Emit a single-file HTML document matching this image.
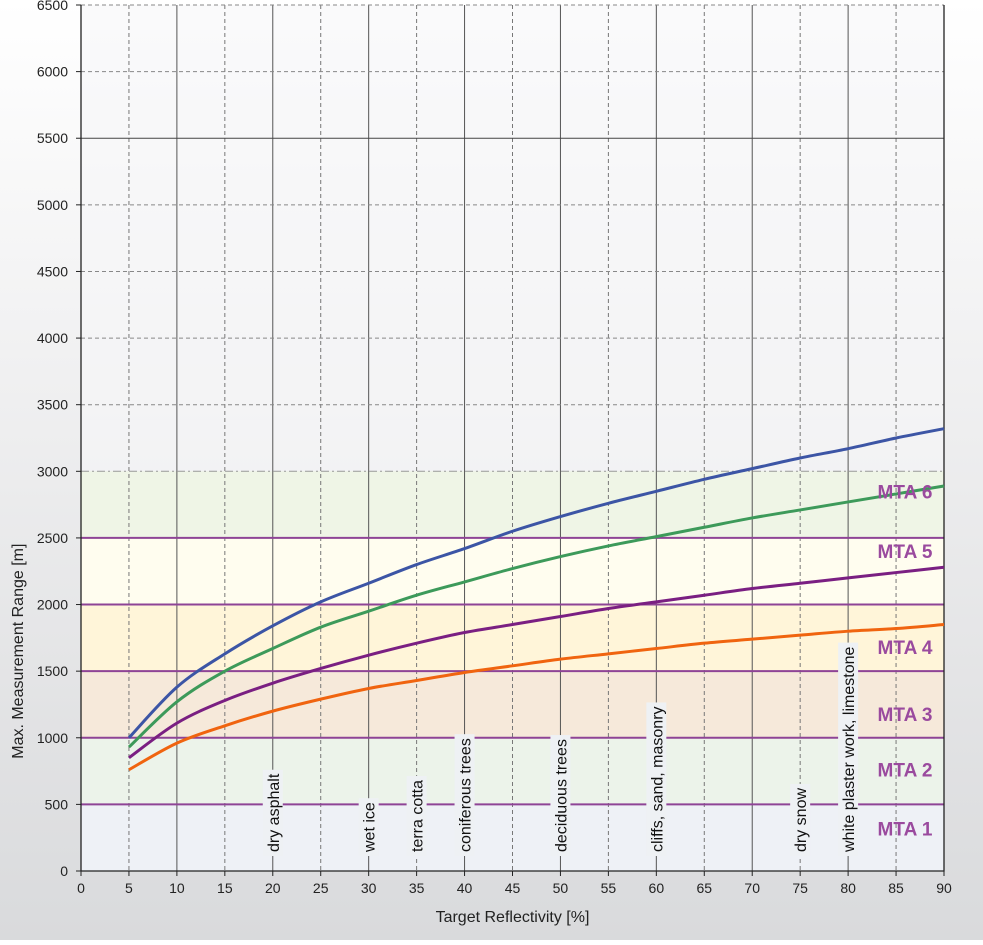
<!DOCTYPE html>
<html><head><meta charset="utf-8">
<style>
html,body{margin:0;padding:0;}
body{width:983px;height:940px;overflow:hidden;background:linear-gradient(#ffffff,#f0f0f1 40%,#d9dadc);font-family:"Liberation Sans",sans-serif;}
</style></head>
<body>
<svg id="chart" width="983" height="940" xmlns="http://www.w3.org/2000/svg" font-family="Liberation Sans, sans-serif"></svg>
<script>
const xTicks=[0,5,10,15,20,25,30,35,40,45,50,55,60,65,70,75,80,85,90];
const yTicks=[0,500,1000,1500,2000,2500,3000,3500,4000,4500,5000,5500,6000,6500];
const seriesX=[5,10,15,20,25,30,35,40,45,50,55,60,65,70,75,80,85,90];
const blueY=[1000,1380,1630,1840,2020,2160,2300,2420,2550,2660,2760,2850,2940,3020,3100,3170,3250,3320];
const greenY=[930,1270,1500,1670,1830,1950,2070,2170,2270,2360,2440,2510,2580,2650,2710,2770,2830,2890];
const purpleY=[850,1110,1280,1410,1520,1620,1710,1790,1850,1910,1970,2020,2070,2120,2160,2200,2240,2280];
const orangeY=[760,960,1090,1200,1290,1370,1430,1490,1540,1590,1630,1670,1710,1740,1770,1800,1820,1850];
const bandLo=[0,500,1000,1500,2000,2500];
const bandColors=["#eef1f6","#ecf3ea","#f6e9da","#fff5d9","#fffdef","#eff5e6"];
const mtaLabels=["MTA 1","MTA 2","MTA 3","MTA 4","MTA 5","MTA 6"];
const mtaLabelY=[320,760,1180,1680,2400,2850];
const materials=["dry asphalt","wet ice","terra cotta","coniferous trees","deciduous trees","cliffs, sand, masonry","dry snow","white plaster work, limestone"];
const materialX=[20,30,35,40,50,60,75,80];

const X0=81,X1=944,Y0=871,Y1=5;
const sx=v=>X0+(X1-X0)*v/90;
const sy=v=>Y0-(Y0-Y1)*v/6500;
const svg=document.getElementById('chart');
const NS="http://www.w3.org/2000/svg";
function mk(tag,attrs,parent){const e=document.createElementNS(NS,tag);for(const k in attrs)e.setAttribute(k,attrs[k]);(parent||svg).appendChild(e);return e;}

const upperBg=mk('rect',{x:X0,y:Y1,width:X1-X0,height:sy(3000)-Y1,fill:'#f7f7f8',opacity:0.6});


bandLo.forEach((lo,i)=>{
  const r=mk('rect',{x:X0,y:sy(lo+500),width:X1-X0,height:sy(lo)-sy(lo+500),fill:bandColors[i]});
  
  
});
xTicks.forEach(t=>{
  if(t===0)return;
  const l=mk('line',{x1:sx(t),x2:sx(t),y1:Y1,y2:Y0,stroke:t%10===0?'#555':'#777','stroke-width':1,'stroke-dasharray':t%10===0?'':'4,3'});
  
  
});
yTicks.forEach(t=>{
  if(t<3000)return;
  let dash='4,3',col='#888';
  if(t===5500){dash='';col='#444';}
  if(t===3000){dash='8,3,2,3';col='#999';}
  const l=mk('line',{x1:X0,x2:X1,y1:sy(t),y2:sy(t),stroke:col,'stroke-width':1,'stroke-dasharray':dash});
  
  
});
bandLo.forEach(lo=>{
  if(lo===0)return;
  const l=mk('line',{x1:X0,x2:X1,y1:sy(lo),y2:sy(lo),stroke:'#8e4496','stroke-width':2});
  
  
});
materials.forEach((m,i)=>{
  const x=sx(materialX[i]);
  const g=mk('g',{transform:`translate(${x+6},852) rotate(-90)`});
  
  
  const t=mk('text',{x:0,y:0,'font-size':16,fill:'#111'},g);
  t.textContent=m;
  const w=t.getComputedTextLength();
  const bg=mk('rect',{x:-4,y:-16,width:w+8,height:20,fill:'#eef1f4'},g);
  g.insertBefore(bg,t);
});
const ax=mk('path',{d:`M${X0},${Y1}V${Y0}H${X1}V${Y1}`,fill:'none',stroke:'#222','stroke-width':1.3});


xTicks.forEach(t=>{
  mk('line',{x1:sx(t),x2:sx(t),y1:Y0,y2:Y0+5,stroke:'#222'});
  const tx=mk('text',{x:sx(t),y:Y0+22,'font-size':14,'text-anchor':'middle',fill:'#222'});
  tx.textContent=t;
  
  
});
yTicks.forEach(t=>{
  mk('line',{x1:X0-5,x2:X0,y1:sy(t),y2:sy(t),stroke:'#222'});
  const tx=mk('text',{x:X0-13,y:sy(t)+5,'font-size':14,'text-anchor':'end',fill:'#222'});
  tx.textContent=t;
  
  
});
function smooth(ys){
  const p=seriesX.map((x,i)=>[sx(x),sy(ys[i])]);
  let d=`M${p[0][0]},${p[0][1]}`;
  for(let i=0;i<p.length-1;i++){
    const p0=p[i-1]||p[i],p1=p[i],p2=p[i+1],p3=p[i+2]||p2;
    const c1=[p1[0]+(p2[0]-p0[0])/6,p1[1]+(p2[1]-p0[1])/6];
    const c2=[p2[0]-(p3[0]-p1[0])/6,p2[1]-(p3[1]-p1[1])/6];
    d+=`C${c1[0]},${c1[1]} ${c2[0]},${c2[1]} ${p2[0]},${p2[1]}`;
  }
  return d;
}
[[orangeY,'#f0640f','series-orange'],[purpleY,'#7a1f82','series-purple'],[greenY,'#3d9a5a','series-green'],[blueY,'#3c55a5','series-blue']].forEach(([ys,c,n])=>{
  const p=mk('path',{d:smooth(ys),fill:'none',stroke:c,'stroke-width':3});
  
  
});
mtaLabels.forEach((m,i)=>{
  const t=mk('text',{x:905,y:sy(mtaLabelY[i])+7,'font-size':19,'font-weight':'bold','text-anchor':'middle',fill:'#9a4a9e'});
  t.textContent=m;
  
  
});
const xt=mk('text',{x:(X0+X1)/2,y:922,'font-size':16,'text-anchor':'middle',fill:'#222'});
xt.textContent='Target Reflectivity [%]';


const yt=mk('text',{x:0,y:0,'font-size':16,'text-anchor':'middle',fill:'#222',transform:`translate(23,${sy(1650)}) rotate(-90)`});
yt.textContent='Max. Measurement Range [m]';


</script>
</body></html>
